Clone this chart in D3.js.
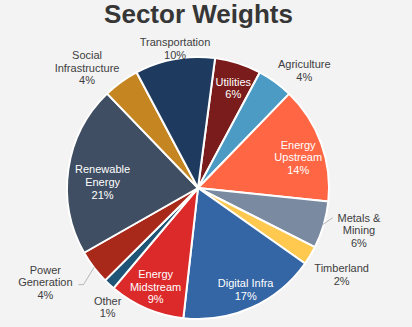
<!DOCTYPE html>
<html><head><meta charset="utf-8">
<script src="https://cdn.jsdelivr.net/npm/d3@7"></script>
<style>
html,body{margin:0;padding:0;background:#f3f3f3;}
svg{display:block;font-family:"Liberation Sans",Arial,sans-serif;}
</style></head>
<body>
<svg id="chart" width="412" height="327"></svg>
<script>
const title = "Sector Weights";
const categories = ["Utilities","Agriculture","Energy Upstream","Metals & Mining","Timberland","Digital Infra","Energy Midstream","Other","Power Generation","Renewable Energy","Social Infrastructure","Transportation"];
const weights = [5.7, 4.4, 14.3, 5.8, 2.3, 16.9, 9.3, 1.4, 4.2, 20.9, 4.4, 9.8];
const nameLines = [["Utilities"],["Agriculture"],["Energy","Upstream"],["Metals &","Mining"],["Timberland"],["Digital Infra"],["Energy","Midstream"],["Other"],["Power","Generation"],["Renewable","Energy"],["Social","Infrastructure"],["Transportation"]];
const colors = ["#7a1c1c","#4b9bc5","#ff6644","#7a8aa0","#ffc84f","#3465a4","#dc2a2a","#1e5577","#a8281a","#3f4e62","#c58520","#1f3a5f"];

// label layout: [radius factor, angle nudge (deg), inside?]
const labelLayout = [[0.81,1.6,true],[1.21,6,false],[0.80,3,true],[1.27,-1.7,false],[1.28,0,false],[0.855,-1,true],[0.82,0,true],[1.14,-5.4,false],[1.37,5.5,false],[0.73,-4.6,true],[1.25,-6.7,false],[1.08,0.9,false]];

const svg = d3.select("#chart");
const cx = 198, cy = 188, R = 131;
const startDeg = 7.5;
const rad = d => d*Math.PI/180;

svg.append("text").attr("x", 198.5).attr("y", 23).attr("text-anchor","middle")
  .attr("font-size", 26).attr("font-weight","bold").attr("fill","#363636").text(title);

const data = categories.map((c,i)=>({name:c, value:weights[i], i}));
const pie = d3.pie().value(d=>d.value).sort(null)
  .startAngle(rad(startDeg)).endAngle(rad(startDeg)+2*Math.PI);
const arcs = pie(data);
const arc = d3.arc().innerRadius(0).outerRadius(R);

const g = svg.append("g").attr("transform",`translate(${cx},${cy})`);
g.selectAll("path.slice").data(arcs).join("path").attr("class","slice")
  .attr("d", arc).attr("fill", d=>colors[d.data.i])
  .attr("stroke","#ffffff").attr("stroke-width",2).attr("stroke-linejoin","round");

const polar = (a, r) => [r*Math.sin(a), -r*Math.cos(a)];
const lh = 12.6;

// leader lines
arcs.forEach(d=>{
  const name = d.data.name;
  if(name !== "Metals & Mining" && name !== "Power Generation") return;
  const mid = (d.startAngle+d.endAngle)/2;
  const [x0,y0] = polar(mid, R-1);
  const pts = name === "Metals & Mining"
    ? [[x0,y0],[x0+10,y0-7]]
    : [[x0,y0],[x0-11,y0+18],[x0-16,y0+18]];
  g.append("polyline").attr("points", pts.map(p=>p.join(",")).join(" "))
    .attr("fill","none").attr("stroke","#a6a6a6").attr("stroke-width",0.8);
});

arcs.forEach(d=>{
  const i = d.data.i;
  const lay = labelLayout[i];
  const mid = (d.startAngle+d.endAngle)/2 + rad(lay[1]);
  const [x,y] = polar(mid, R*lay[0]);
  const lines = nameLines[i].concat([Math.round(d.data.value)+"%"]);
  const t = g.append("text").attr("text-anchor","middle").attr("font-size",11)
    .attr("fill", lay[2] ? "#ffffff" : "#404040");
  const y0 = y - (lines.length-1)*lh/2 + 4;
  lines.forEach((ln,k)=>{
    t.append("tspan").attr("x", x).attr("y", y0 + k*lh).text(ln);
  });
});
</script>
</body></html>
